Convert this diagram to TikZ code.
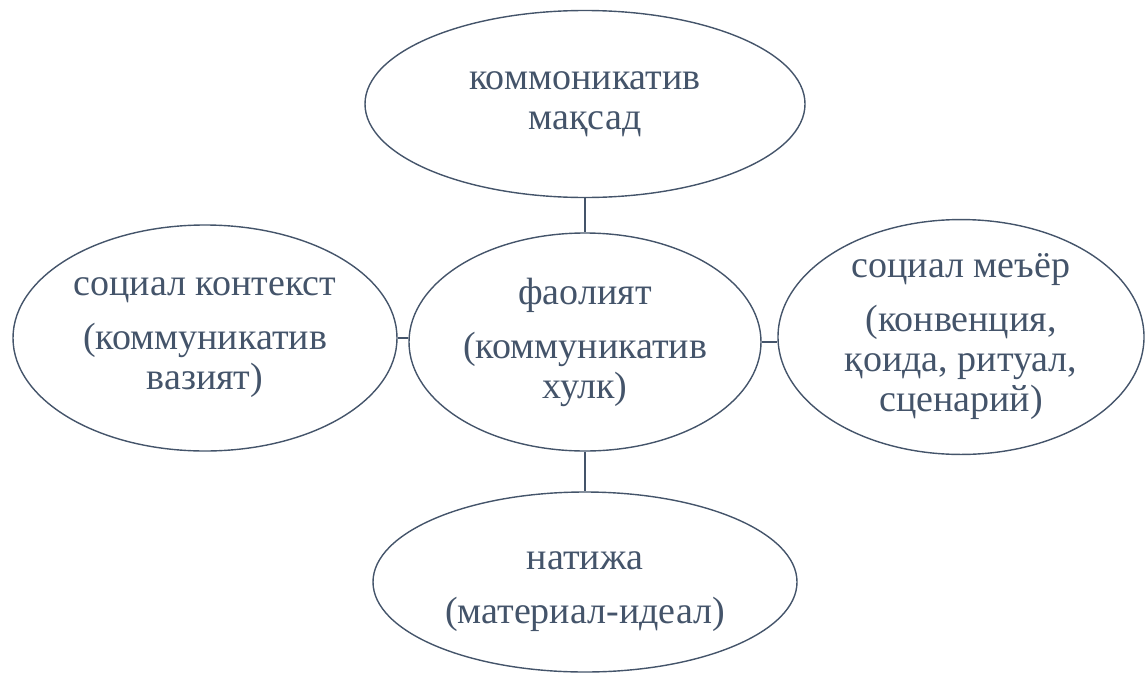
\documentclass[tikz,border=0pt]{standalone}
\usepackage{fontspec}
\setmainfont{Liberation Serif}
\newfontfamily\tnr{Liberation Serif}
\usetikzlibrary{shapes.geometric}
\definecolor{ink}{HTML}{44546A}
\tikzset{
  txt/.style={inner sep=0pt, align=center, text=ink, font=\tnr\fontsize{38}{40}\selectfont},
  oval/.style={ellipse, draw=ink, line width=1.4pt, txt},
  link/.style={draw=ink, line width=2pt}
}
\begin{document}
\begin{tikzpicture}[x=1pt,y=-1pt]
\useasboundingbox (0,0) rectangle (1145,672);
\node[oval, minimum width=440, minimum height=187] (t) at (585,104) {\raisebox{0pt}{}коммоникатив\\мақсад};
\node[oval, minimum width=352, minimum height=218] (c) at (585,342) {фаолият\\[14pt](коммуникатив\\хулк)};
\node[oval, minimum width=384, minimum height=226] (l) at (205,338) {социал контекст\\[14pt](коммуникатив\\вазият)};
\node[oval, minimum width=366, minimum height=228] (r) at (961,337) {социал меъёр\\[14pt](конвенция,\\қоида, ритуал,\\сценарий)};
\node[oval, minimum width=424, minimum height=180] (b) at (585,582) {};
\node[txt] (bt) at ([yshift=-10pt]b.center) {натижа\\[14pt](материал-идеал)};
\draw[link] (t.south) -- (c.north);
\draw[link] (c.south) -- (b.north);
\draw[link] (l.east) -- (l.east -| c.west);
\draw[link] (c.east) -- (c.east -| r.west);
\end{tikzpicture}
\end{document}
